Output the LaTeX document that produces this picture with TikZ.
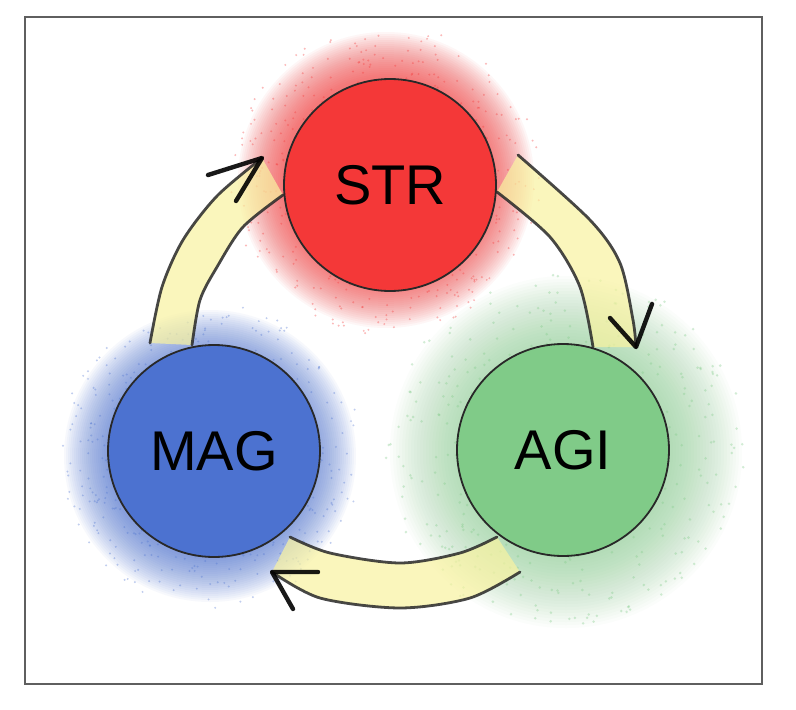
\documentclass[tikz,border=0pt]{standalone}
\usepackage{fontspec}
\setmainfont{Liberation Sans}
\usetikzlibrary{calc}
\definecolor{strred}{RGB}{244,56,56}
\definecolor{magblue}{RGB}{76,114,208}
\definecolor{agigreen}{RGB}{128,203,136}
\definecolor{bandyellow}{RGB}{249,243,160}
\definecolor{framegray}{RGB}{95,95,95}
\definecolor{ink}{RGB}{40,40,40}
\tikzset{
  bubble/.style={circle, draw=ink, line width=1.8pt, minimum size=212pt, inner sep=0pt,
    font=\fontsize{56}{62}\selectfont},
  bandline/.style={draw=ink, line width=2.8pt, line cap=round, opacity=0.85},
  bandfill/.style={fill=bandyellow, opacity=0.7},
  wing/.style={draw=black, line width=4.4pt, line cap=round, line join=round, opacity=0.9}
}
\begin{document}
\begin{tikzpicture}[x=1pt,y=-1pt]
\useasboundingbox (0,0) rectangle (796,710);
\fill[white] (0,0) rectangle (796,710);

% halos: stacked translucent discs
\coordinate (hS) at (386,180);
\coordinate (hM) at (210,456);
\coordinate (hA) at (566,452);
\foreach \r in {104,106,...,148} \fill[strred, opacity=0.045] (hS) circle (\r);
\foreach \r in {104,106,...,146} \fill[magblue, opacity=0.045] (hM) circle (\r);
\foreach \r in {104,107,...,176} \fill[agigreen, opacity=0.032] (hA) circle (\r);

% spray speckles
\pgfmathsetseed{7}
\foreach \i in {1,...,300} {
  \pgfmathsetmacro\ang{360*rnd}\pgfmathsetmacro\rad{100+55*rnd}
  \fill[strred, opacity=0.35] ($(hS)+(\ang:\rad)$) circle (1.1pt);
  \pgfmathsetmacro\ang{360*rnd}\pgfmathsetmacro\rad{100+52*rnd}
  \fill[magblue, opacity=0.35] ($(hM)+(\ang:\rad)$) circle (1.1pt);
  \pgfmathsetmacro\ang{360*rnd}\pgfmathsetmacro\rad{100+80*rnd}
  \fill[agigreen, opacity=0.35] ($(hA)+(\ang:\rad)$) circle (1.4pt);
}

% band coordinates
\coordinate (lo1) at (150,343); \coordinate (lo2) at (162,287); \coordinate (lo3) at (183,240);
\coordinate (lo4) at (217,196); \coordinate (ltip) at (262,158);
\coordinate (li1) at (192,345); \coordinate (li2) at (200,300); \coordinate (li3) at (217,267);
\coordinate (li4) at (243,227); \coordinate (li5) at (283,195);
\coordinate (lw1) at (208,175); \coordinate (lw2) at (236,201);

\coordinate (ro1) at (518,155); \coordinate (ro2) at (590,220); \coordinate (ro3) at (620,263);
\coordinate (ro4) at (633,320); \coordinate (rtip) at (636,347);
\coordinate (ri1) at (497,192); \coordinate (ri2) at (550,237); \coordinate (ri3) at (580,287);
\coordinate (ri4) at (593,347);
\coordinate (rw1) at (610,318); \coordinate (rw2) at (652,304);

\coordinate (bo1) at (520,572); \coordinate (bo2) at (470,598); \coordinate (bo3) at (400,608);
\coordinate (bo4) at (320,598); \coordinate (btip) at (272,572);
\coordinate (bi1) at (290,537); \coordinate (bi2) at (330,553); \coordinate (bi3) at (400,563);
\coordinate (bi4) at (460,553); \coordinate (bi5) at (497,537);
\coordinate (bw1) at (318,572); \coordinate (bw2) at (293,609);

% yellow bands
\fill[bandfill] plot[smooth] coordinates {(lo1) (lo2) (lo3) (lo4) (ltip)}
  -- plot[smooth] coordinates {(li5) (li4) (li3) (li2) (li1)} -- cycle;
\fill[bandfill] plot[smooth] coordinates {(ro1) (ro2) (ro3) (ro4) (rtip)}
  -- plot[smooth] coordinates {(ri4) (ri3) (ri2) (ri1)} -- cycle;
\fill[bandfill] plot[smooth] coordinates {(bo1) (bo2) (bo3) (bo4) (btip)}
  -- plot[smooth] coordinates {(bi1) (bi2) (bi3) (bi4) (bi5)} -- cycle;

% band lines
\draw[bandline] plot[smooth] coordinates {(lo1) (lo2) (lo3) (lo4) (ltip)};
\draw[bandline] plot[smooth] coordinates {(li1) (li2) (li3) (li4) (li5)};
\draw[bandline] plot[smooth] coordinates {(ro1) (ro2) (ro3) (ro4) (rtip)};
\draw[bandline] plot[smooth] coordinates {(ri1) (ri2) (ri3) (ri4)};
\draw[bandline] plot[smooth] coordinates {(bo1) (bo2) (bo3) (bo4) (btip)};
\draw[bandline] plot[smooth] coordinates {(bi1) (bi2) (bi3) (bi4) (bi5)};

% arrow heads
\draw[wing] (lw1) -- (ltip) -- (lw2);
\draw[wing] (rw1) -- (rtip) -- (rw2);
\draw[wing] (bw1) -- (btip) -- (bw2);

% circles
\node[bubble, fill=strred] (STR) at (390,185) {STR};
\node[bubble, fill=magblue] (MAG) at (214,451) {MAG};
\node[bubble, fill=agigreen] (AGI) at (563,450) {AGI};

% frame
\draw[framegray, line width=2.8pt] (25,17) rectangle (762,684);
\end{tikzpicture}
\end{document}
